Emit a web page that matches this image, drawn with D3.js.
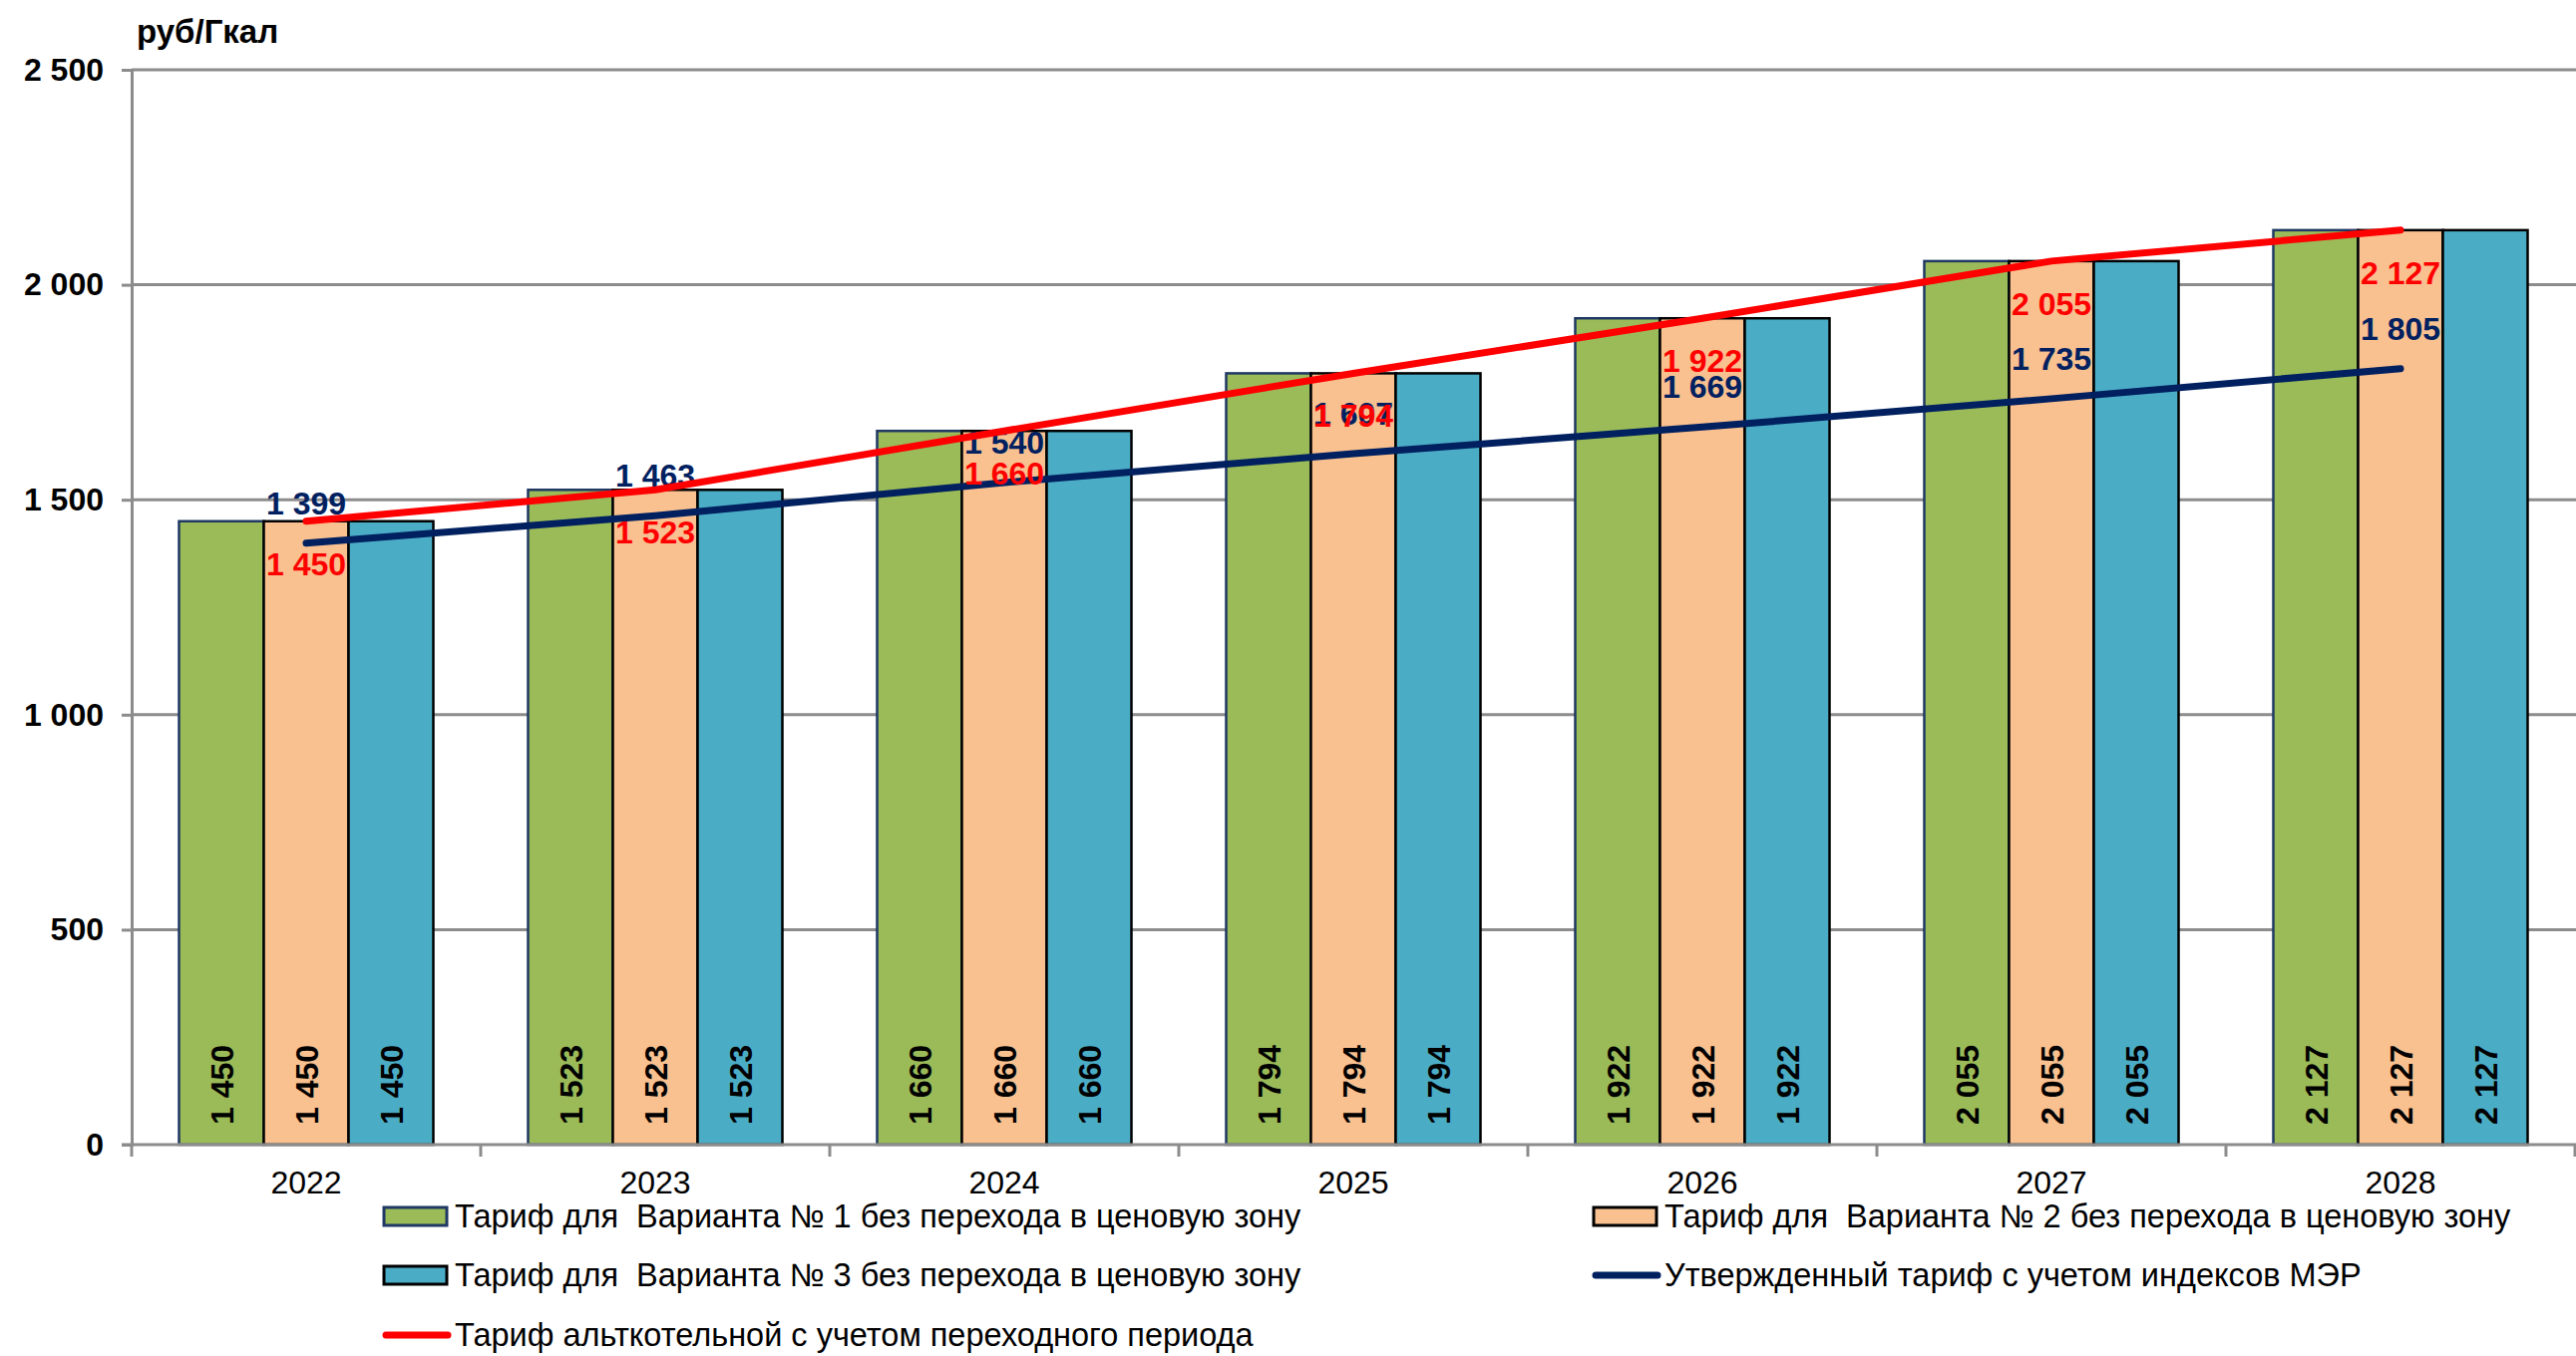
<!DOCTYPE html>
<html lang="ru">
<head>
<meta charset="utf-8">
<title>Тарифы, руб/Гкал</title>
<script src="https://cdn.jsdelivr.net/npm/d3@7"></script>
<style>
  html, body { margin: 0; padding: 0; background: #ffffff; }
  svg { display: block; font-family: "Liberation Sans", Arial, sans-serif; }
  .pre { white-space: pre; }
</style>
</head>
<body>
<svg id="chart" width="2583" height="1360"></svg>
<script>
// Years on the category axis
const years = ["2022", "2023", "2024", "2025", "2026", "2027", "2028"];

// Bar series: tariff by option, without transition to the price zone
const option1 = [1450, 1523, 1660, 1794, 1922, 2055, 2127];
const option2 = [1450, 1523, 1660, 1794, 1922, 2055, 2127];
const option3 = [1450, 1523, 1660, 1794, 1922, 2055, 2127];

// Line series
const approvedTariff = [1399, 1463, 1540, 1607, 1669, 1735, 1805];   // with MED indices
const altBoilerTariff = [1450, 1523, 1660, 1794, 1922, 2055, 2127];  // with transition period

// Value axis ticks
const yTicks = [0, 500, 1000, 1500, 2000, 2500];

const barSeries = [
  { key: "v1", name: "Тариф для  Варианта № 1 без перехода в ценовую зону", values: option1, fill: "#9BBB59", stroke: "#1F3864" },
  { key: "v2", name: "Тариф для  Варианта № 2 без перехода в ценовую зону", values: option2, fill: "#F9C090", stroke: "#000000" },
  { key: "v3", name: "Тариф для  Варианта № 3 без перехода в ценовую зону", values: option3, fill: "#4BACC6", stroke: "#000000" }
];
const lineApproved = { name: "Утвержденный тариф с учетом индексов МЭР", values: approvedTariff, color: "#002060" };
const lineAlt = { name: "Тариф альткотельной с учетом переходного периода", values: altBoilerTariff, color: "#FF0000" };

const fmt = v => d3.format(",")(v).replace(/,/g, " ");

const svg = d3.select("#chart");
const plot = { left: 132, right: 2582, top: 70, bottom: 1148 };
const gridColor = "#8C8C8C";

const x0 = d3.scaleBand().domain(years).range([plot.left, plot.right]).padding(0);
const step = x0.bandwidth();
const x1 = d3.scaleBand().domain(barSeries.map(s => s.key))
  .range([step * 0.1357, step * 0.8643]).padding(0);
const y = d3.scaleLinear().domain([0, 2500]).range([plot.bottom, plot.top]);
const cx = yr => x0(yr) + step / 2;

// Horizontal gridlines
svg.append("g").selectAll("line").data(yTicks.filter(t => t > 0)).join("line")
  .attr("x1", plot.left).attr("x2", 2583)
  .attr("y1", d => y(d)).attr("y2", d => y(d))
  .attr("stroke", gridColor).attr("stroke-width", 3);

// Value axis
const yAxis = svg.append("g").attr("transform", `translate(${plot.left},0)`)
  .call(d3.axisLeft(y).tickValues(yTicks).tickSize(10).tickPadding(18).tickFormat(fmt));
yAxis.select(".domain").attr("stroke", gridColor).attr("stroke-width", 3);
yAxis.selectAll(".tick line").attr("stroke", gridColor).attr("stroke-width", 3);
yAxis.selectAll(".tick text")
  .attr("font-size", 32).attr("font-weight", "bold").attr("fill", "#000")
  .attr("font-family", "'Liberation Sans', Arial, sans-serif");

// Unit caption
svg.append("text").attr("x", 137).attr("y", 43)
  .attr("font-size", 33).attr("font-weight", "bold").text("руб/Гкал");

// Bars
const groups = svg.append("g").selectAll("g").data(years).join("g")
  .attr("transform", d => `translate(${x0(d)},0)`);
groups.selectAll("rect")
  .data((yr, i) => barSeries.map(s => ({ s, v: s.values[i] })))
  .join("rect")
  .attr("x", d => x1(d.s.key))
  .attr("width", x1.bandwidth())
  .attr("y", d => y(d.v))
  .attr("height", d => y(0) - y(d.v))
  .attr("fill", d => d.s.fill)
  .attr("stroke", d => d.s.stroke)
  .attr("stroke-width", 2.5);

// Bar value labels, vertical, at the base of each bar
groups.selectAll("text.bl")
  .data((yr, i) => barSeries.map(s => ({ s, v: s.values[i] })))
  .join("text").attr("class", "bl")
  .attr("transform", d => `translate(${x1(d.s.key) + x1.bandwidth() / 2 + 1},${y(0) - 20}) rotate(-90)`)
  .attr("dominant-baseline", "central")
  .attr("font-size", 32).attr("font-weight", "bold").attr("fill", "#000")
  .text(d => fmt(d.v));

// Category axis
const xAxis = svg.append("g").attr("transform", `translate(0,${plot.bottom})`)
  .call(d3.axisBottom(x0).tickSize(0).tickPadding(26));
xAxis.select(".domain").remove();
xAxis.selectAll(".tick text")
  .attr("font-size", 32).attr("fill", "#000")
  .attr("font-family", "'Liberation Sans', Arial, sans-serif");
svg.append("line").attr("x1", plot.left - 10).attr("x2", 2583)
  .attr("y1", plot.bottom).attr("y2", plot.bottom)
  .attr("stroke", gridColor).attr("stroke-width", 3);
svg.append("g").selectAll("line").data(years.concat(["end"])).join("line")
  .attr("x1", (d, i) => plot.left + i * step).attr("x2", (d, i) => plot.left + i * step)
  .attr("y1", plot.bottom).attr("y2", plot.bottom + 12)
  .attr("stroke", gridColor).attr("stroke-width", 3);

// Lines
const lineGen = d3.line().x((d, i) => cx(years[i])).y(d => y(d));
function drawLine(ser, dy) {
  svg.append("path").datum(ser.values)
    .attr("d", lineGen).attr("fill", "none")
    .attr("stroke", ser.color).attr("stroke-width", 7)
    .attr("stroke-linecap", "round").attr("stroke-linejoin", "round");
  svg.append("g").selectAll("text").data(ser.values).join("text")
    .attr("x", (d, i) => cx(years[i]))
    .attr("y", d => y(d) + dy)
    .attr("text-anchor", "middle").attr("dominant-baseline", "central")
    .attr("font-size", 32).attr("font-weight", "bold").attr("fill", ser.color)
    .text(d => fmt(d));
}
drawLine(lineApproved, -40);
drawLine(lineAlt, 43);

// Legend
const legendItems = [
  { type: "rect", s: barSeries[0], x: 385, y: 1220 },
  { type: "rect", s: barSeries[1], x: 1598, y: 1220 },
  { type: "rect", s: barSeries[2], x: 385, y: 1279 },
  { type: "line", s: lineApproved, x: 1598, y: 1279 },
  { type: "line", s: lineAlt, x: 385, y: 1339 }
];
const lg = svg.append("g").selectAll("g").data(legendItems).join("g")
  .attr("transform", d => `translate(${d.x},${d.y})`);
lg.filter(d => d.type === "rect").append("rect")
  .attr("x", 0).attr("y", -9).attr("width", 63).attr("height", 18)
  .attr("fill", d => d.s.fill).attr("stroke", d => d.s.stroke).attr("stroke-width", 3);
lg.filter(d => d.type === "line").append("line")
  .attr("x1", 2).attr("x2", 64).attr("y1", 0).attr("y2", 0)
  .attr("stroke", d => d.s.color).attr("stroke-width", 7).attr("stroke-linecap", "round");
lg.append("text").attr("class", "pre")
  .attr("x", 71).attr("y", 0).attr("dominant-baseline", "central")
  .attr("font-size", 32.5).attr("fill", "#000")
  .text(d => d.s.name);
</script>
</body>
</html>
